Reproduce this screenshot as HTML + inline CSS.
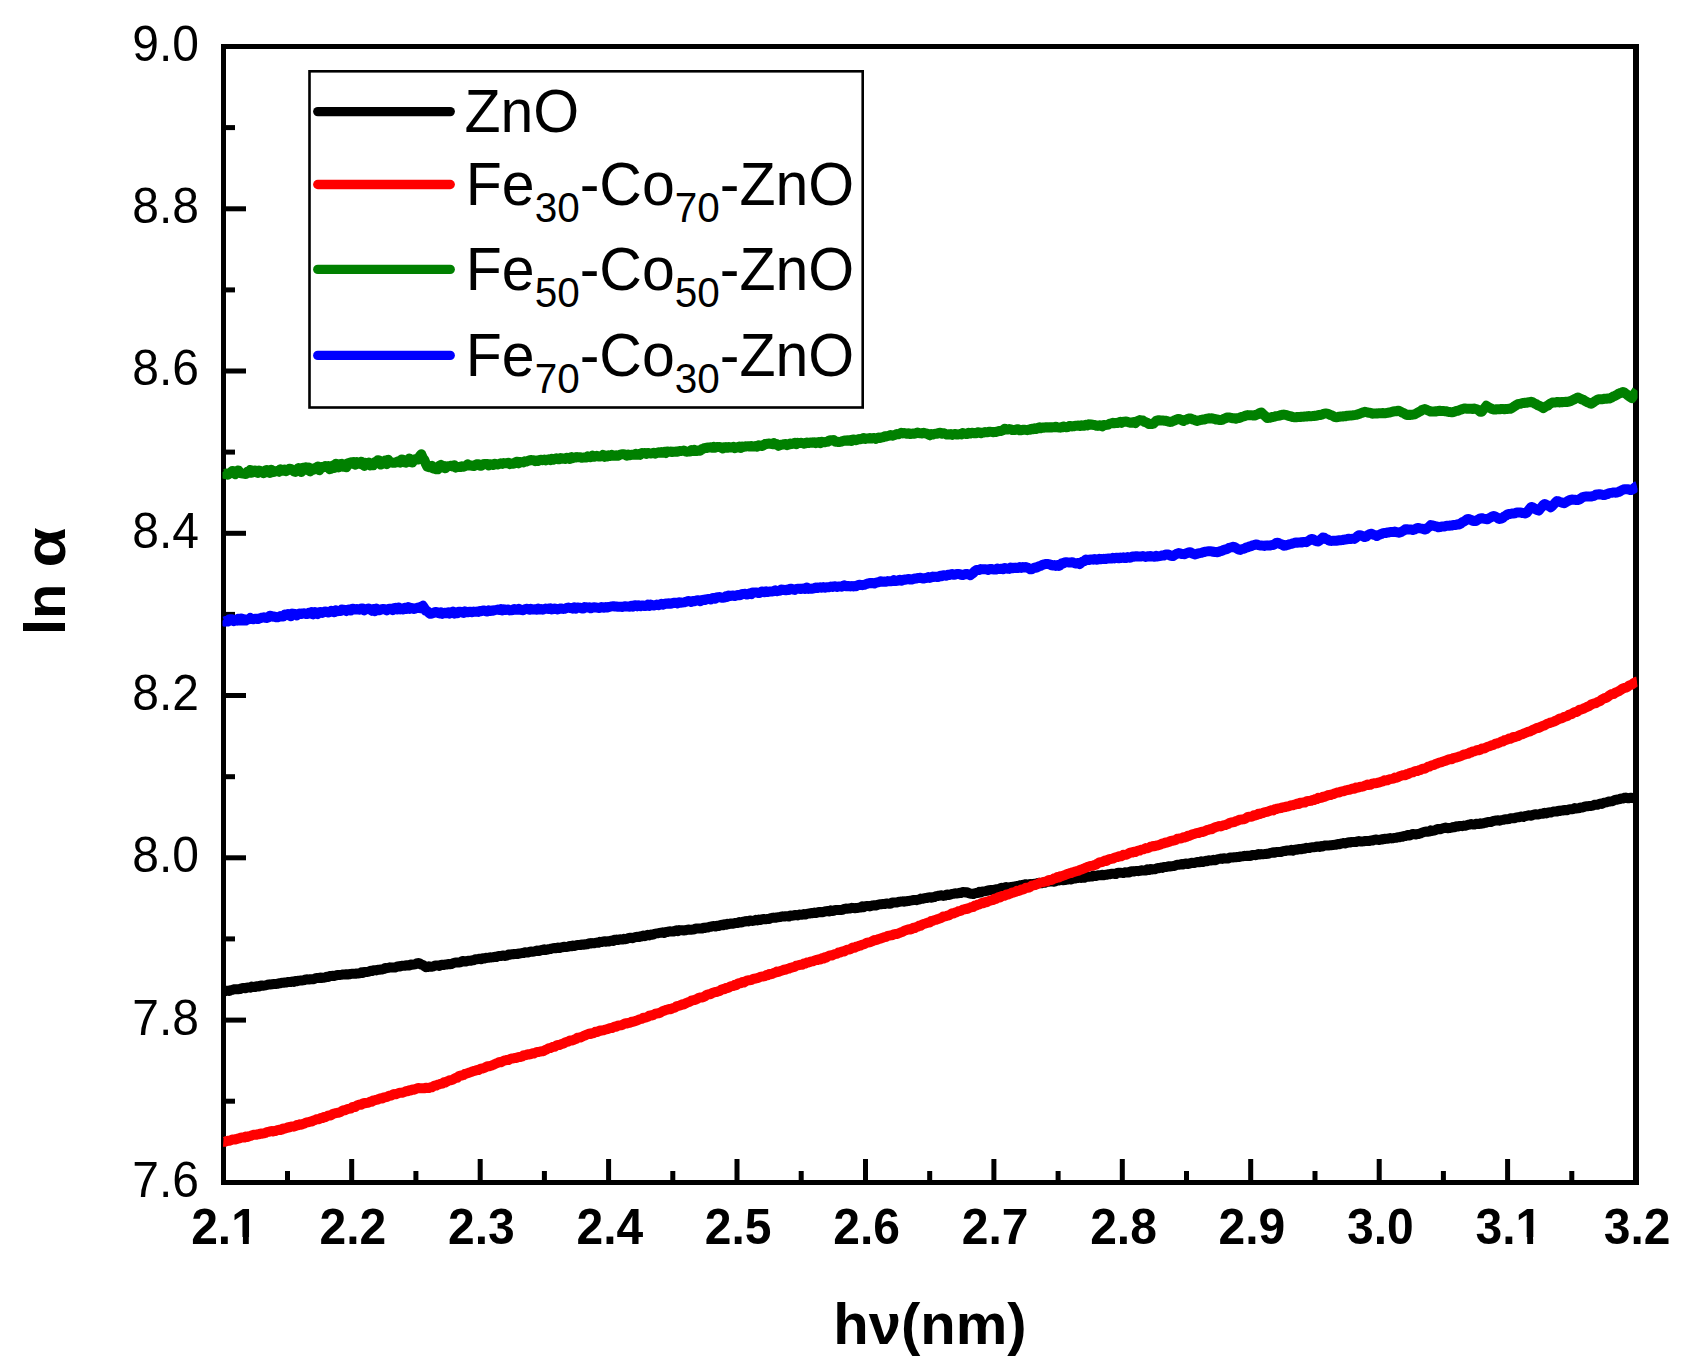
<!DOCTYPE html>
<html lang="en">
<head>
<meta charset="utf-8">
<title>ln α vs hν</title>
<style>
html,body{margin:0;padding:0;background:#fff;}
body{width:1698px;height:1370px;overflow:hidden;}
svg{display:block;}
text{font-family:"Liberation Sans",Arial,Helvetica,sans-serif;fill:#000;}
.yt text{font-size:48px;}
.xt text{font-size:48px;font-weight:bold;}
.lg text{font-size:59px;}
.lg .sub{font-size:40.5px;}
.ax{font-size:58px;font-weight:bold;}
</style>
</head>
<body>
<svg width="1698" height="1370" viewBox="0 0 1698 1370">
<rect x="0" y="0" width="1698" height="1370" fill="#fff"/>
<!-- frame -->
<rect x="223.5" y="46.5" width="1413" height="1136" fill="none" stroke="#000" stroke-width="5"/>
<rect x="1633" y="44" width="6" height="1141" fill="#000"/>
<g fill="#000">
<rect x="224" y="1098.7" width="11" height="5"/>
<rect x="224" y="1017.6" width="22" height="5"/>
<rect x="224" y="936.4" width="11" height="5"/>
<rect x="224" y="855.3" width="22" height="5"/>
<rect x="224" y="774.2" width="11" height="5"/>
<rect x="224" y="693.0" width="22" height="5"/>
<rect x="224" y="611.9" width="11" height="5"/>
<rect x="224" y="530.8" width="22" height="5"/>
<rect x="224" y="449.6" width="11" height="5"/>
<rect x="224" y="368.5" width="22" height="5"/>
<rect x="224" y="287.4" width="11" height="5"/>
<rect x="224" y="206.3" width="22" height="5"/>
<rect x="224" y="125.1" width="11" height="5"/>
<rect x="285.0" y="1171" width="5" height="11"/>
<rect x="349.2" y="1159" width="5" height="23"/>
<rect x="413.4" y="1171" width="5" height="11"/>
<rect x="477.7" y="1159" width="5" height="23"/>
<rect x="541.9" y="1171" width="5" height="11"/>
<rect x="606.1" y="1159" width="5" height="23"/>
<rect x="670.3" y="1171" width="5" height="11"/>
<rect x="734.5" y="1159" width="5" height="23"/>
<rect x="798.7" y="1171" width="5" height="11"/>
<rect x="863.0" y="1159" width="5" height="23"/>
<rect x="927.2" y="1171" width="5" height="11"/>
<rect x="991.4" y="1159" width="5" height="23"/>
<rect x="1055.6" y="1171" width="5" height="11"/>
<rect x="1119.8" y="1159" width="5" height="23"/>
<rect x="1184.0" y="1171" width="5" height="11"/>
<rect x="1248.2" y="1159" width="5" height="23"/>
<rect x="1312.5" y="1171" width="5" height="11"/>
<rect x="1376.7" y="1159" width="5" height="23"/>
<rect x="1440.9" y="1171" width="5" height="11"/>
<rect x="1505.1" y="1159" width="5" height="23"/>
<rect x="1569.3" y="1171" width="5" height="11"/>
</g>
<g class="yt">
<text transform="translate(199,1196.7) scale(1,1.04)" text-anchor="end">7.6</text>
<text transform="translate(199,1034.5) scale(1,1.04)" text-anchor="end">7.8</text>
<text transform="translate(199,872.2) scale(1,1.04)" text-anchor="end">8.0</text>
<text transform="translate(199,709.9) scale(1,1.04)" text-anchor="end">8.2</text>
<text transform="translate(199,547.7) scale(1,1.04)" text-anchor="end">8.4</text>
<text transform="translate(199,385.4) scale(1,1.04)" text-anchor="end">8.6</text>
<text transform="translate(199,223.2) scale(1,1.04)" text-anchor="end">8.8</text>
<text transform="translate(199,60.9) scale(1,1.04)" text-anchor="end">9.0</text>
</g>
<g class="xt">
<text transform="translate(224.5,1243.8) scale(1,1.045)" text-anchor="middle">2.1</text>
<text transform="translate(352.9,1243.8) scale(1,1.045)" text-anchor="middle">2.2</text>
<text transform="translate(481.4,1243.8) scale(1,1.045)" text-anchor="middle">2.3</text>
<text transform="translate(609.8,1243.8) scale(1,1.045)" text-anchor="middle">2.4</text>
<text transform="translate(738.2,1243.8) scale(1,1.045)" text-anchor="middle">2.5</text>
<text transform="translate(866.7,1243.8) scale(1,1.045)" text-anchor="middle">2.6</text>
<text transform="translate(995.1,1243.8) scale(1,1.045)" text-anchor="middle">2.7</text>
<text transform="translate(1123.5,1243.8) scale(1,1.045)" text-anchor="middle">2.8</text>
<text transform="translate(1251.9,1243.8) scale(1,1.045)" text-anchor="middle">2.9</text>
<text transform="translate(1380.4,1243.8) scale(1,1.045)" text-anchor="middle">3.0</text>
<text transform="translate(1508.8,1243.8) scale(1,1.045)" text-anchor="middle">3.1</text>
<text transform="translate(1637.2,1243.8) scale(1,1.045)" text-anchor="middle">3.2</text>
</g>
<g fill="#fff">
<rect x="233.5" y="1237" width="9.4" height="9"/><rect x="248.8" y="1237" width="9.6" height="9"/>
<rect x="1517.8" y="1237" width="9.4" height="9"/><rect x="1533.1" y="1237" width="9.6" height="9"/>
</g>
<!-- legend -->
<rect x="309.5" y="71.3" width="553.2" height="336.2" fill="#fff" stroke="#000" stroke-width="2.6"/>
<g class="lg">
<line x1="317.8" y1="111.6" x2="450.2" y2="111.6" stroke="#000000" stroke-width="9.4" stroke-linecap="round"/>
<text transform="translate(464.5,132.3) scale(1,1.03)">ZnO</text>
<line x1="317.8" y1="184.5" x2="450.2" y2="184.5" stroke="#ff0000" stroke-width="9.4" stroke-linecap="round"/>
<text transform="translate(465.8,205.2) scale(1,1.03)">Fe<tspan class="sub" dy="16">30</tspan><tspan dy="-16">-Co</tspan><tspan class="sub" dy="16">70</tspan><tspan dy="-16">-ZnO</tspan></text>
<line x1="317.8" y1="269.4" x2="450.2" y2="269.4" stroke="#008000" stroke-width="9.4" stroke-linecap="round"/>
<text transform="translate(465.8,290.1) scale(1,1.03)">Fe<tspan class="sub" dy="16">50</tspan><tspan dy="-16">-Co</tspan><tspan class="sub" dy="16">50</tspan><tspan dy="-16">-ZnO</tspan></text>
<line x1="317.8" y1="355.4" x2="450.2" y2="355.4" stroke="#0000ff" stroke-width="9.4" stroke-linecap="round"/>
<text transform="translate(465.8,376.1) scale(1,1.03)">Fe<tspan class="sub" dy="16">70</tspan><tspan dy="-16">-Co</tspan><tspan class="sub" dy="16">30</tspan><tspan dy="-16">-ZnO</tspan></text>
</g>
<!-- curves -->
<clipPath id="cc"><rect x="222.5" y="49" width="1415" height="1131"/></clipPath>
<g clip-path="url(#cc)">
<path d="M223.3,990.9 L224.8,991.4 L226.3,990.8 L227.8,990.8 L229.3,990.9 L230.8,990.2 L232.3,989.9 L233.8,989.3 L235.3,989.2 L236.8,989.2 L238.3,989.2 L239.8,989.1 L241.3,988.4 L242.8,987.9 L244.3,987.9 L245.8,988.3 L247.3,987.4 L248.8,987.4 L250.3,987.7 L251.8,986.6 L253.3,986.9 L254.8,987.1 L256.3,986.2 L257.8,986.3 L259.3,986.4 L260.8,985.5 L262.3,985.6 L263.8,985.7 L265.3,985.4 L266.8,985.0 L268.3,984.5 L269.8,984.6 L271.3,984.3 L272.8,984.2 L274.3,983.9 L275.8,984.1 L277.3,983.9 L278.8,983.2 L280.3,983.3 L281.8,982.8 L283.3,982.8 L284.8,982.5 L286.3,982.6 L287.8,982.1 L289.3,982.0 L290.8,982.1 L292.3,981.6 L293.8,981.9 L295.3,980.9 L296.8,981.3 L298.3,980.8 L299.8,980.6 L301.3,980.6 L302.8,980.3 L304.3,980.0 L305.8,979.4 L307.3,979.3 L308.8,979.6 L310.3,979.2 L311.8,979.2 L313.3,979.2 L314.8,978.7 L316.3,977.9 L317.8,977.9 L319.3,978.0 L320.8,977.4 L322.3,977.9 L323.8,977.7 L325.3,977.3 L326.8,976.7 L328.3,976.9 L329.8,976.0 L331.3,975.9 L332.8,975.8 L334.3,975.9 L335.8,975.5 L337.3,975.0 L338.8,975.0 L340.3,974.9 L341.8,974.7 L343.3,974.4 L344.8,974.5 L346.3,974.3 L347.8,974.5 L349.3,974.3 L350.8,973.9 L352.3,973.7 L353.8,973.8 L355.3,973.8 L356.8,973.4 L358.3,973.4 L359.8,973.3 L361.3,972.3 L362.8,972.9 L364.3,972.0 L365.8,971.9 L367.3,972.0 L368.8,971.6 L370.3,970.8 L371.8,971.1 L373.3,970.2 L374.8,970.2 L376.3,970.4 L377.8,969.8 L379.3,969.7 L380.8,969.5 L382.3,969.4 L383.8,969.0 L385.3,968.0 L386.8,968.2 L388.3,967.9 L389.8,967.3 L391.3,967.6 L392.8,967.4 L394.3,967.5 L395.8,967.4 L397.3,966.4 L398.8,966.3 L400.3,966.5 L401.8,965.8 L403.3,965.7 L404.8,965.8 L406.3,965.2 L407.8,965.6 L409.3,965.5 L410.8,964.5 L412.3,964.7 L413.8,964.6 L415.3,964.4 L416.8,963.4 L418.3,963.0 L419.8,963.5 L421.3,964.6 L422.8,964.9 L424.3,966.2 L425.8,967.2 L427.3,967.1 L428.8,966.3 L430.3,966.7 L431.8,966.7 L433.3,966.3 L434.8,965.7 L436.3,965.4 L437.8,965.5 L439.3,965.9 L440.8,965.0 L442.3,964.8 L443.8,965.0 L445.3,964.6 L446.8,964.5 L448.3,964.0 L449.8,964.2 L451.3,964.0 L452.8,963.4 L454.3,962.7 L455.8,962.6 L457.3,962.5 L458.8,962.5 L460.3,962.3 L461.8,961.3 L463.3,960.9 L464.8,961.5 L466.3,961.4 L467.8,960.7 L469.3,960.8 L470.8,960.7 L472.3,960.2 L473.8,960.3 L475.3,959.2 L476.8,959.2 L478.3,959.0 L479.8,958.7 L481.3,959.3 L482.8,958.2 L484.3,958.6 L485.8,957.8 L487.3,957.9 L488.8,957.7 L490.3,957.3 L491.8,957.4 L493.3,957.2 L494.8,956.8 L496.3,957.0 L497.8,956.2 L499.3,956.0 L500.8,956.0 L502.3,955.8 L503.8,955.4 L505.3,955.9 L506.8,955.6 L508.3,954.6 L509.8,954.7 L511.3,954.3 L512.8,954.3 L514.3,953.9 L515.8,953.9 L517.3,954.1 L518.8,953.4 L520.3,953.4 L521.8,953.1 L523.3,953.1 L524.8,952.2 L526.3,952.6 L527.8,952.6 L529.3,952.0 L530.8,951.5 L532.3,951.7 L533.8,951.5 L535.3,951.2 L536.8,950.5 L538.3,951.1 L539.8,950.8 L541.3,950.1 L542.8,950.0 L544.3,949.2 L545.8,950.0 L547.3,949.6 L548.8,949.2 L550.3,949.1 L551.8,948.4 L553.3,948.3 L554.8,948.0 L556.3,948.2 L557.8,947.5 L559.3,948.1 L560.8,947.4 L562.3,947.2 L563.8,946.7 L565.3,947.1 L566.8,947.0 L568.3,946.6 L569.8,946.0 L571.3,946.3 L572.8,945.5 L574.3,946.0 L575.8,945.5 L577.3,945.0 L578.8,945.1 L580.3,945.0 L581.8,944.4 L583.3,944.8 L584.8,944.2 L586.3,944.4 L587.8,944.2 L589.3,943.2 L590.8,943.6 L592.3,943.1 L593.8,943.3 L595.3,942.9 L596.8,942.6 L598.3,942.8 L599.8,941.8 L601.3,942.1 L602.8,941.7 L604.3,941.2 L605.8,941.7 L607.3,941.3 L608.8,941.4 L610.3,940.9 L611.8,940.5 L613.3,940.9 L614.8,939.8 L616.3,939.6 L617.8,940.1 L619.3,939.5 L620.8,939.3 L622.3,939.6 L623.8,938.8 L625.3,939.2 L626.8,938.8 L628.3,938.2 L629.8,937.8 L631.3,937.7 L632.8,938.2 L634.3,937.4 L635.8,936.9 L637.3,936.8 L638.8,937.1 L640.3,936.2 L641.8,936.5 L643.3,935.6 L644.8,936.2 L646.3,935.5 L647.8,934.8 L649.3,935.4 L650.8,934.6 L652.3,934.7 L653.8,934.3 L655.3,933.6 L656.8,933.4 L658.3,933.2 L659.8,932.9 L661.3,932.6 L662.8,932.3 L664.3,933.0 L665.8,931.9 L667.3,932.0 L668.8,931.4 L670.3,931.3 L671.8,931.6 L673.3,931.6 L674.8,930.9 L676.3,930.3 L677.8,931.2 L679.3,930.1 L680.8,930.3 L682.3,930.3 L683.8,930.5 L685.3,930.3 L686.8,929.9 L688.3,929.5 L689.8,929.8 L691.3,929.7 L692.8,929.6 L694.3,929.3 L695.8,928.5 L697.3,928.6 L698.8,928.6 L700.3,928.5 L701.8,928.6 L703.3,927.7 L704.8,927.9 L706.3,927.4 L707.8,927.6 L709.3,926.8 L710.8,926.8 L712.3,926.2 L713.8,926.1 L715.3,926.6 L716.8,925.7 L718.3,926.1 L719.8,925.4 L721.3,924.7 L722.8,925.3 L724.3,924.3 L725.8,924.8 L727.3,923.8 L728.8,924.2 L730.3,923.5 L731.8,923.4 L733.3,923.8 L734.8,923.1 L736.3,923.0 L737.8,922.9 L739.3,922.0 L740.8,922.5 L742.3,922.3 L743.8,921.4 L745.3,921.6 L746.8,921.1 L748.3,921.4 L749.8,920.5 L751.3,920.8 L752.8,920.9 L754.3,920.6 L755.8,919.8 L757.3,920.4 L758.8,919.6 L760.3,919.9 L761.8,919.4 L763.3,918.9 L764.8,919.3 L766.3,919.2 L767.8,918.9 L769.3,919.0 L770.8,918.1 L772.3,917.8 L773.8,917.6 L775.3,917.8 L776.8,917.4 L778.3,917.2 L779.8,917.1 L781.3,916.7 L782.8,916.3 L784.3,916.6 L785.8,916.2 L787.3,916.2 L788.8,916.5 L790.3,915.5 L791.8,915.8 L793.3,915.6 L794.8,915.1 L796.3,915.1 L797.8,915.4 L799.3,914.6 L800.8,914.7 L802.3,914.7 L803.8,914.0 L805.3,914.5 L806.8,913.9 L808.3,913.6 L809.8,913.6 L811.3,913.1 L812.8,913.2 L814.3,912.6 L815.8,913.1 L817.3,912.5 L818.8,912.0 L820.3,912.0 L821.8,912.3 L823.3,912.0 L824.8,911.5 L826.3,911.2 L827.8,911.0 L829.3,911.4 L830.8,910.4 L832.3,911.0 L833.8,910.8 L835.3,909.9 L836.8,909.9 L838.3,909.9 L839.8,910.0 L841.3,909.9 L842.8,909.8 L844.3,908.9 L845.8,908.6 L847.3,908.7 L848.8,908.6 L850.3,908.5 L851.8,907.8 L853.3,908.1 L854.8,908.2 L856.3,908.0 L857.8,907.9 L859.3,907.6 L860.8,907.5 L862.3,906.4 L863.8,907.1 L865.3,906.2 L866.8,906.1 L868.3,906.1 L869.8,906.4 L871.3,905.8 L872.8,905.4 L874.3,905.2 L875.8,905.5 L877.3,905.2 L878.8,904.4 L880.3,904.3 L881.8,904.2 L883.3,903.9 L884.8,904.0 L886.3,903.5 L887.8,903.6 L889.3,903.8 L890.8,903.5 L892.3,902.5 L893.8,902.5 L895.3,902.5 L896.8,902.5 L898.3,902.0 L899.8,901.7 L901.3,901.6 L902.8,901.3 L904.3,901.7 L905.8,901.4 L907.3,900.9 L908.8,901.0 L910.3,900.6 L911.8,900.4 L913.3,900.0 L914.8,899.9 L916.3,900.2 L917.8,899.7 L919.3,899.6 L920.8,898.6 L922.3,898.8 L923.8,898.4 L925.3,897.9 L926.8,898.0 L928.3,897.4 L929.8,897.3 L931.3,897.7 L932.8,897.3 L934.3,897.1 L935.8,896.2 L937.3,896.1 L938.8,895.7 L940.3,895.5 L941.8,895.3 L943.3,895.9 L944.8,895.6 L946.3,894.7 L947.8,894.5 L949.3,895.0 L950.8,894.3 L952.3,893.9 L953.8,893.7 L955.3,893.3 L956.8,893.4 L958.3,893.3 L959.8,892.8 L961.3,892.9 L962.8,891.9 L964.3,892.2 L965.8,892.5 L967.3,892.2 L968.8,893.1 L970.3,893.8 L971.8,893.7 L973.3,894.1 L974.8,893.3 L976.3,893.0 L977.8,893.1 L979.3,891.9 L980.8,892.5 L982.3,891.4 L983.8,891.4 L985.3,891.2 L986.8,890.9 L988.3,890.2 L989.8,890.2 L991.3,889.9 L992.8,890.2 L994.3,889.9 L995.8,889.2 L997.3,889.3 L998.8,889.0 L1000.3,888.3 L1001.8,887.8 L1003.3,888.1 L1004.8,887.6 L1006.3,887.1 L1007.8,887.8 L1009.3,887.6 L1010.8,886.9 L1012.3,886.8 L1013.8,886.6 L1015.3,886.7 L1016.8,886.0 L1018.3,885.9 L1019.8,885.3 L1021.3,885.1 L1022.8,885.1 L1024.3,884.6 L1025.8,884.2 L1027.3,884.4 L1028.8,884.6 L1030.3,884.0 L1031.8,884.4 L1033.3,884.0 L1034.8,883.8 L1036.3,883.9 L1037.8,882.9 L1039.3,882.8 L1040.8,883.3 L1042.3,883.2 L1043.8,882.2 L1045.3,882.7 L1046.8,881.7 L1048.3,881.7 L1049.8,881.5 L1051.3,881.5 L1052.8,881.4 L1054.3,881.8 L1055.8,881.1 L1057.3,880.6 L1058.8,880.6 L1060.3,880.1 L1061.8,880.0 L1063.3,880.2 L1064.8,880.1 L1066.3,879.7 L1067.8,879.6 L1069.3,879.1 L1070.8,879.5 L1072.3,879.0 L1073.8,878.5 L1075.3,878.6 L1076.8,878.1 L1078.3,878.0 L1079.8,877.6 L1081.3,878.0 L1082.8,877.3 L1084.3,877.8 L1085.8,877.0 L1087.3,876.5 L1088.8,876.8 L1090.3,876.6 L1091.8,876.6 L1093.3,875.6 L1094.8,876.0 L1096.3,875.9 L1097.8,875.2 L1099.3,875.2 L1100.8,875.2 L1102.3,874.7 L1103.8,875.2 L1105.3,874.8 L1106.8,874.8 L1108.3,874.3 L1109.8,874.2 L1111.3,873.7 L1112.8,873.7 L1114.3,873.9 L1115.8,874.0 L1117.3,873.0 L1118.8,872.8 L1120.3,872.7 L1121.8,872.9 L1123.3,873.1 L1124.8,872.3 L1126.3,872.4 L1127.8,872.3 L1129.3,872.4 L1130.8,871.5 L1132.3,871.2 L1133.8,871.5 L1135.3,871.2 L1136.8,870.9 L1138.3,871.2 L1139.8,870.9 L1141.3,870.2 L1142.8,870.4 L1144.3,870.5 L1145.8,870.4 L1147.3,869.3 L1148.8,870.0 L1150.3,869.0 L1151.8,869.5 L1153.3,869.2 L1154.8,869.3 L1156.3,868.7 L1157.8,867.9 L1159.3,868.2 L1160.8,867.6 L1162.3,867.9 L1163.8,866.9 L1165.3,866.9 L1166.8,867.0 L1168.3,866.3 L1169.8,866.5 L1171.3,866.3 L1172.8,866.1 L1174.3,866.0 L1175.8,865.3 L1177.3,864.8 L1178.8,864.7 L1180.3,864.5 L1181.8,864.0 L1183.3,864.5 L1184.8,863.6 L1186.3,863.4 L1187.8,864.0 L1189.3,863.7 L1190.8,863.0 L1192.3,862.8 L1193.8,863.1 L1195.3,862.7 L1196.8,862.1 L1198.3,862.1 L1199.8,862.3 L1201.3,861.2 L1202.8,862.0 L1204.3,861.4 L1205.8,860.8 L1207.3,861.2 L1208.8,860.3 L1210.3,860.4 L1211.8,860.4 L1213.3,859.8 L1214.8,860.3 L1216.3,859.9 L1217.8,859.1 L1219.3,858.9 L1220.8,858.6 L1222.3,858.9 L1223.8,858.3 L1225.3,858.5 L1226.8,858.6 L1228.3,858.5 L1229.8,857.6 L1231.3,857.6 L1232.8,857.5 L1234.3,857.3 L1235.8,857.2 L1237.3,857.0 L1238.8,857.1 L1240.3,856.5 L1241.8,856.4 L1243.3,856.2 L1244.8,855.8 L1246.3,856.1 L1247.8,855.7 L1249.3,856.1 L1250.8,855.8 L1252.3,855.0 L1253.8,854.9 L1255.3,855.2 L1256.8,854.8 L1258.3,854.1 L1259.8,854.5 L1261.3,854.1 L1262.8,854.3 L1264.3,854.1 L1265.8,854.1 L1267.3,853.7 L1268.8,853.7 L1270.3,852.9 L1271.8,852.7 L1273.3,852.2 L1274.8,852.8 L1276.3,851.9 L1277.8,852.1 L1279.3,851.9 L1280.8,852.0 L1282.3,851.4 L1283.8,850.9 L1285.3,851.0 L1286.8,850.4 L1288.3,850.5 L1289.8,850.6 L1291.3,849.8 L1292.8,850.6 L1294.3,849.9 L1295.8,849.5 L1297.3,849.8 L1298.8,848.9 L1300.3,848.9 L1301.8,849.3 L1303.3,848.4 L1304.8,848.7 L1306.3,847.8 L1307.8,848.1 L1309.3,848.0 L1310.8,847.4 L1312.3,847.3 L1313.8,847.3 L1315.3,847.1 L1316.8,846.5 L1318.3,846.6 L1319.8,847.0 L1321.3,846.1 L1322.8,846.4 L1324.3,845.6 L1325.8,845.6 L1327.3,845.5 L1328.8,845.4 L1330.3,845.3 L1331.8,845.2 L1333.3,844.9 L1334.8,844.8 L1336.3,844.7 L1337.8,843.9 L1339.3,844.2 L1340.8,843.7 L1342.3,843.3 L1343.8,843.0 L1345.3,843.4 L1346.8,843.0 L1348.3,842.3 L1349.8,842.6 L1351.3,841.9 L1352.8,842.1 L1354.3,842.1 L1355.8,842.1 L1357.3,841.4 L1358.8,841.1 L1360.3,841.5 L1361.8,841.6 L1363.3,841.4 L1364.8,840.9 L1366.3,840.9 L1367.8,840.9 L1369.3,840.9 L1370.8,840.4 L1372.3,840.6 L1373.8,839.9 L1375.3,839.6 L1376.8,839.6 L1378.3,839.9 L1379.8,839.9 L1381.3,839.3 L1382.8,839.4 L1384.3,838.7 L1385.8,838.9 L1387.3,838.7 L1388.8,838.5 L1390.3,838.1 L1391.8,838.4 L1393.3,838.2 L1394.8,837.9 L1396.3,837.7 L1397.8,837.2 L1399.3,837.3 L1400.8,836.7 L1402.3,836.8 L1403.8,836.0 L1405.3,836.1 L1406.8,835.3 L1408.3,834.9 L1409.8,835.5 L1411.3,834.6 L1412.8,834.0 L1414.3,834.3 L1415.8,834.4 L1417.3,833.9 L1418.8,833.9 L1420.3,833.5 L1421.8,832.7 L1423.3,832.2 L1424.8,831.7 L1426.3,831.6 L1427.8,831.7 L1429.3,831.6 L1430.8,830.4 L1432.3,830.9 L1433.8,830.6 L1435.3,830.2 L1436.8,829.3 L1438.3,828.9 L1439.8,829.3 L1441.3,828.9 L1442.8,828.3 L1444.3,828.1 L1445.8,827.6 L1447.3,828.3 L1448.8,828.0 L1450.3,827.9 L1451.8,827.6 L1453.3,827.0 L1454.8,827.2 L1456.3,826.3 L1457.8,826.6 L1459.3,826.0 L1460.8,825.9 L1462.3,826.2 L1463.8,825.6 L1465.3,825.8 L1466.8,825.3 L1468.3,824.8 L1469.8,824.6 L1471.3,824.1 L1472.8,824.5 L1474.3,824.6 L1475.8,823.8 L1477.3,823.8 L1478.8,824.1 L1480.3,823.3 L1481.8,823.7 L1483.3,823.4 L1484.8,822.8 L1486.3,822.7 L1487.8,821.9 L1489.3,822.1 L1490.8,822.1 L1492.3,821.3 L1493.8,820.9 L1495.3,820.6 L1496.8,820.5 L1498.3,820.3 L1499.8,820.7 L1501.3,820.1 L1502.8,819.9 L1504.3,819.4 L1505.8,819.2 L1507.3,819.2 L1508.8,819.1 L1510.3,818.3 L1511.8,818.3 L1513.3,818.3 L1514.8,818.3 L1516.3,817.4 L1517.8,817.3 L1519.3,817.2 L1520.8,816.5 L1522.3,816.8 L1523.8,816.9 L1525.3,815.9 L1526.8,815.9 L1528.3,815.3 L1529.8,815.5 L1531.3,815.7 L1532.8,815.0 L1534.3,814.5 L1535.8,814.3 L1537.3,814.4 L1538.8,814.4 L1540.3,813.8 L1541.8,813.6 L1543.3,813.7 L1544.8,812.8 L1546.3,813.4 L1547.8,812.7 L1549.3,812.3 L1550.8,812.6 L1552.3,811.8 L1553.8,811.5 L1555.3,811.4 L1556.8,811.5 L1558.3,810.7 L1559.8,810.9 L1561.3,810.4 L1562.8,810.5 L1564.3,809.9 L1565.8,810.3 L1567.3,810.2 L1568.8,809.4 L1570.3,809.2 L1571.8,809.2 L1573.3,809.0 L1574.8,808.1 L1576.3,808.4 L1577.8,808.3 L1579.3,808.0 L1580.8,807.4 L1582.3,807.5 L1583.8,807.0 L1585.3,806.4 L1586.8,806.2 L1588.3,806.2 L1589.8,805.9 L1591.3,805.9 L1592.8,805.6 L1594.3,804.8 L1595.8,804.7 L1597.3,804.8 L1598.8,804.2 L1600.3,803.6 L1601.8,803.9 L1603.3,803.1 L1604.8,802.6 L1606.3,802.4 L1607.8,801.8 L1609.3,801.4 L1610.8,801.4 L1612.3,801.2 L1613.8,800.5 L1615.3,799.8 L1616.8,799.8 L1618.3,799.3 L1619.8,799.0 L1621.3,798.4 L1622.8,798.6 L1624.3,797.8 L1625.8,797.6 L1627.3,798.3 L1628.8,798.3 L1630.3,797.8 L1631.8,797.8 L1633.3,798.2 L1634.8,798.5 L1636.3,797.9 L1637.0,798.1" fill="none" stroke="#000000" stroke-width="10" stroke-linejoin="round" stroke-linecap="butt"/>
<path d="M223.3,1141.7 L224.8,1141.8 L226.3,1141.2 L227.8,1140.8 L229.3,1140.7 L230.8,1140.2 L232.3,1139.5 L233.8,1139.4 L235.3,1139.6 L236.8,1139.1 L238.3,1138.5 L239.8,1138.3 L241.3,1137.4 L242.8,1137.4 L244.3,1137.5 L245.8,1136.5 L247.3,1136.9 L248.8,1136.4 L250.3,1136.0 L251.8,1135.4 L253.3,1134.8 L254.8,1134.7 L256.3,1134.8 L257.8,1134.2 L259.3,1134.3 L260.8,1133.4 L262.3,1133.7 L263.8,1133.4 L265.3,1133.0 L266.8,1132.2 L268.3,1131.9 L269.8,1131.4 L271.3,1131.1 L272.8,1131.5 L274.3,1131.0 L275.8,1130.9 L277.3,1130.1 L278.8,1129.8 L280.3,1130.0 L281.8,1129.7 L283.3,1128.4 L284.8,1128.7 L286.3,1128.1 L287.8,1127.2 L289.3,1127.4 L290.8,1126.7 L292.3,1126.4 L293.8,1126.7 L295.3,1126.1 L296.8,1125.0 L298.3,1125.3 L299.8,1124.2 L301.3,1124.7 L302.8,1124.0 L304.3,1123.7 L305.8,1122.7 L307.3,1122.2 L308.8,1122.2 L310.3,1121.6 L311.8,1121.5 L313.3,1120.5 L314.8,1120.1 L316.3,1119.3 L317.8,1119.2 L319.3,1119.2 L320.8,1118.0 L322.3,1118.1 L323.8,1117.0 L325.3,1117.2 L326.8,1116.3 L328.3,1115.5 L329.8,1115.6 L331.3,1115.2 L332.8,1114.0 L334.3,1113.5 L335.8,1113.1 L337.3,1112.8 L338.8,1112.7 L340.3,1112.1 L341.8,1111.1 L343.3,1110.2 L344.8,1110.3 L346.3,1109.7 L347.8,1108.9 L349.3,1108.7 L350.8,1108.6 L352.3,1107.2 L353.8,1106.8 L355.3,1106.9 L356.8,1105.6 L358.3,1105.1 L359.8,1104.6 L361.3,1104.7 L362.8,1103.6 L364.3,1103.1 L365.8,1103.2 L367.3,1102.9 L368.8,1102.4 L370.3,1101.6 L371.8,1101.7 L373.3,1100.4 L374.8,1100.3 L376.3,1099.8 L377.8,1099.5 L379.3,1098.7 L380.8,1098.2 L382.3,1098.6 L383.8,1097.4 L385.3,1097.2 L386.8,1097.1 L388.3,1096.1 L389.8,1095.7 L391.3,1095.5 L392.8,1094.6 L394.3,1094.1 L395.8,1094.3 L397.3,1093.7 L398.8,1093.0 L400.3,1092.8 L401.8,1092.8 L403.3,1092.4 L404.8,1091.8 L406.3,1091.1 L407.8,1091.3 L409.3,1090.2 L410.8,1090.4 L412.3,1089.4 L413.8,1089.7 L415.3,1089.2 L416.8,1088.5 L418.3,1088.0 L419.8,1088.2 L421.3,1088.3 L422.8,1088.2 L424.3,1088.3 L425.8,1087.7 L427.3,1088.0 L428.8,1088.1 L430.3,1087.3 L431.8,1087.3 L433.3,1086.3 L434.8,1085.6 L436.3,1085.6 L437.8,1084.6 L439.3,1084.3 L440.8,1083.8 L442.3,1083.5 L443.8,1082.3 L445.3,1082.5 L446.8,1081.7 L448.3,1080.8 L449.8,1080.2 L451.3,1080.2 L452.8,1079.6 L454.3,1078.6 L455.8,1077.8 L457.3,1077.8 L458.8,1076.2 L460.3,1075.6 L461.8,1075.6 L463.3,1075.1 L464.8,1074.0 L466.3,1073.7 L467.8,1073.1 L469.3,1072.7 L470.8,1072.1 L472.3,1071.5 L473.8,1071.0 L475.3,1070.7 L476.8,1070.0 L478.3,1070.1 L479.8,1069.2 L481.3,1068.4 L482.8,1068.4 L484.3,1068.0 L485.8,1067.1 L487.3,1066.2 L488.8,1066.3 L490.3,1065.9 L491.8,1065.5 L493.3,1064.8 L494.8,1064.2 L496.3,1063.4 L497.8,1062.8 L499.3,1062.1 L500.8,1062.3 L502.3,1061.5 L503.8,1060.8 L505.3,1060.3 L506.8,1060.0 L508.3,1060.1 L509.8,1059.2 L511.3,1058.6 L512.8,1058.5 L514.3,1058.1 L515.8,1058.1 L517.3,1057.5 L518.8,1057.0 L520.3,1057.1 L521.8,1056.6 L523.3,1055.5 L524.8,1055.2 L526.3,1055.0 L527.8,1054.2 L529.3,1054.5 L530.8,1054.1 L532.3,1053.3 L533.8,1053.5 L535.3,1052.7 L536.8,1052.0 L538.3,1052.0 L539.8,1051.7 L541.3,1051.3 L542.8,1051.2 L544.3,1050.7 L545.8,1049.7 L547.3,1049.2 L548.8,1048.2 L550.3,1048.1 L551.8,1047.3 L553.3,1046.7 L554.8,1046.8 L556.3,1045.5 L557.8,1045.0 L559.3,1045.0 L560.8,1044.4 L562.3,1043.7 L563.8,1043.5 L565.3,1042.4 L566.8,1041.8 L568.3,1041.5 L569.8,1040.6 L571.3,1040.6 L572.8,1040.3 L574.3,1039.6 L575.8,1039.1 L577.3,1037.8 L578.8,1037.6 L580.3,1037.5 L581.8,1036.9 L583.3,1036.1 L584.8,1035.6 L586.3,1034.7 L587.8,1034.2 L589.3,1033.5 L590.8,1033.9 L592.3,1032.9 L593.8,1033.2 L595.3,1031.8 L596.8,1032.1 L598.3,1031.4 L599.8,1030.5 L601.3,1030.7 L602.8,1030.4 L604.3,1029.9 L605.8,1029.5 L607.3,1029.1 L608.8,1028.7 L610.3,1027.9 L611.8,1028.1 L613.3,1027.2 L614.8,1026.5 L616.3,1026.8 L617.8,1025.7 L619.3,1025.4 L620.8,1025.3 L622.3,1024.9 L623.8,1024.0 L625.3,1023.3 L626.8,1023.5 L628.3,1023.0 L629.8,1022.8 L631.3,1021.8 L632.8,1021.9 L634.3,1021.3 L635.8,1020.9 L637.3,1020.3 L638.8,1019.7 L640.3,1019.1 L641.8,1018.9 L643.3,1017.7 L644.8,1017.7 L646.3,1017.3 L647.8,1016.8 L649.3,1015.6 L650.8,1015.3 L652.3,1015.4 L653.8,1014.8 L655.3,1013.7 L656.8,1013.5 L658.3,1013.3 L659.8,1012.9 L661.3,1012.0 L662.8,1011.1 L664.3,1010.7 L665.8,1010.0 L667.3,1009.7 L668.8,1009.1 L670.3,1009.2 L671.8,1008.7 L673.3,1007.9 L674.8,1007.8 L676.3,1006.5 L677.8,1005.9 L679.3,1005.8 L680.8,1005.1 L682.3,1004.2 L683.8,1004.4 L685.3,1003.5 L686.8,1002.9 L688.3,1002.1 L689.8,1001.8 L691.3,1000.7 L692.8,1000.3 L694.3,1000.1 L695.8,999.5 L697.3,998.9 L698.8,997.8 L700.3,997.5 L701.8,997.6 L703.3,997.0 L704.8,996.4 L706.3,995.1 L707.8,994.5 L709.3,994.1 L710.8,994.2 L712.3,993.0 L713.8,992.5 L715.3,992.0 L716.8,991.9 L718.3,991.2 L719.8,991.0 L721.3,989.7 L722.8,989.1 L724.3,989.3 L725.8,988.1 L727.3,988.1 L728.8,987.5 L730.3,986.5 L731.8,986.0 L733.3,986.0 L734.8,984.7 L736.3,985.1 L737.8,983.6 L739.3,983.2 L740.8,983.2 L742.3,982.1 L743.8,982.5 L745.3,981.5 L746.8,980.7 L748.3,980.3 L749.8,980.2 L751.3,980.1 L752.8,979.1 L754.3,978.7 L755.8,978.5 L757.3,978.1 L758.8,977.7 L760.3,976.9 L761.8,976.5 L763.3,976.5 L764.8,976.1 L766.3,975.1 L767.8,975.3 L769.3,974.0 L770.8,974.2 L772.3,973.8 L773.8,973.0 L775.3,972.7 L776.8,971.6 L778.3,972.0 L779.8,971.3 L781.3,970.8 L782.8,970.3 L784.3,969.5 L785.8,969.7 L787.3,968.9 L788.8,968.6 L790.3,967.7 L791.8,967.7 L793.3,966.9 L794.8,966.9 L796.3,965.7 L797.8,965.4 L799.3,965.0 L800.8,964.8 L802.3,964.8 L803.8,963.5 L805.3,963.6 L806.8,962.6 L808.3,962.5 L809.8,962.0 L811.3,961.4 L812.8,961.3 L814.3,960.7 L815.8,960.1 L817.3,960.0 L818.8,959.2 L820.3,959.5 L821.8,958.3 L823.3,958.6 L824.8,957.3 L826.3,957.7 L827.8,956.3 L829.3,955.7 L830.8,955.3 L832.3,955.4 L833.8,954.4 L835.3,953.9 L836.8,953.8 L838.3,952.6 L839.8,952.6 L841.3,951.9 L842.8,951.2 L844.3,951.4 L845.8,950.3 L847.3,949.7 L848.8,949.6 L850.3,949.2 L851.8,948.1 L853.3,947.4 L854.8,947.8 L856.3,946.7 L857.8,946.3 L859.3,945.7 L860.8,945.5 L862.3,944.6 L863.8,944.4 L865.3,943.6 L866.8,942.7 L868.3,942.6 L869.8,942.4 L871.3,941.6 L872.8,941.0 L874.3,940.1 L875.8,940.3 L877.3,939.6 L878.8,939.0 L880.3,938.6 L881.8,938.2 L883.3,937.6 L884.8,937.1 L886.3,936.8 L887.8,935.9 L889.3,935.6 L890.8,935.3 L892.3,935.3 L893.8,934.4 L895.3,934.0 L896.8,933.9 L898.3,933.4 L899.8,932.8 L901.3,932.2 L902.8,931.7 L904.3,930.8 L905.8,930.3 L907.3,929.8 L908.8,929.3 L910.3,929.4 L911.8,928.9 L913.3,927.8 L914.8,928.0 L916.3,927.0 L917.8,926.6 L919.3,925.5 L920.8,925.7 L922.3,924.4 L923.8,923.9 L925.3,923.6 L926.8,923.1 L928.3,922.5 L929.8,922.4 L931.3,920.9 L932.8,920.9 L934.3,920.1 L935.8,919.9 L937.3,919.2 L938.8,918.8 L940.3,918.3 L941.8,917.7 L943.3,916.5 L944.8,916.4 L946.3,916.1 L947.8,915.6 L949.3,915.2 L950.8,914.2 L952.3,913.2 L953.8,913.4 L955.3,912.5 L956.8,912.3 L958.3,911.2 L959.8,911.0 L961.3,910.7 L962.8,909.7 L964.3,909.4 L965.8,908.7 L967.3,908.9 L968.8,908.2 L970.3,907.6 L971.8,906.9 L973.3,906.9 L974.8,905.6 L976.3,905.6 L977.8,904.4 L979.3,904.4 L980.8,903.5 L982.3,902.8 L983.8,903.2 L985.3,902.0 L986.8,902.2 L988.3,901.3 L989.8,900.8 L991.3,900.3 L992.8,900.1 L994.3,898.8 L995.8,899.0 L997.3,897.8 L998.8,897.1 L1000.3,897.4 L1001.8,896.0 L1003.3,895.9 L1004.8,895.7 L1006.3,894.6 L1007.8,894.6 L1009.3,893.9 L1010.8,893.5 L1012.3,892.4 L1013.8,892.4 L1015.3,892.0 L1016.8,890.8 L1018.3,891.1 L1019.8,890.6 L1021.3,889.4 L1022.8,889.5 L1024.3,889.0 L1025.8,887.7 L1027.3,887.8 L1028.8,887.5 L1030.3,886.9 L1031.8,885.7 L1033.3,885.4 L1034.8,885.1 L1036.3,884.4 L1037.8,883.9 L1039.3,883.1 L1040.8,882.6 L1042.3,882.4 L1043.8,882.0 L1045.3,881.6 L1046.8,881.5 L1048.3,880.1 L1049.8,879.9 L1051.3,879.9 L1052.8,879.4 L1054.3,878.2 L1055.8,878.2 L1057.3,877.1 L1058.8,877.5 L1060.3,876.3 L1061.8,876.2 L1063.3,875.5 L1064.8,875.1 L1066.3,874.3 L1067.8,873.9 L1069.3,873.3 L1070.8,873.1 L1072.3,872.4 L1073.8,872.0 L1075.3,871.5 L1076.8,871.1 L1078.3,870.9 L1079.8,869.9 L1081.3,869.4 L1082.8,868.9 L1084.3,868.3 L1085.8,867.7 L1087.3,867.0 L1088.8,866.7 L1090.3,865.9 L1091.8,865.8 L1093.3,865.5 L1094.8,864.9 L1096.3,864.4 L1097.8,863.3 L1099.3,862.5 L1100.8,862.2 L1102.3,862.0 L1103.8,861.1 L1105.3,860.5 L1106.8,860.9 L1108.3,859.7 L1109.8,858.9 L1111.3,858.9 L1112.8,858.6 L1114.3,857.9 L1115.8,857.2 L1117.3,857.1 L1118.8,856.2 L1120.3,856.4 L1121.8,856.2 L1123.3,854.8 L1124.8,854.9 L1126.3,854.7 L1127.8,854.0 L1129.3,853.1 L1130.8,852.6 L1132.3,852.5 L1133.8,851.7 L1135.3,852.0 L1136.8,851.2 L1138.3,850.6 L1139.8,850.6 L1141.3,849.6 L1142.8,849.4 L1144.3,848.9 L1145.8,848.1 L1147.3,848.3 L1148.8,847.8 L1150.3,846.8 L1151.8,846.6 L1153.3,846.0 L1154.8,846.2 L1156.3,845.5 L1157.8,845.4 L1159.3,844.8 L1160.8,844.4 L1162.3,843.4 L1163.8,843.5 L1165.3,842.6 L1166.8,842.7 L1168.3,842.1 L1169.8,841.5 L1171.3,840.7 L1172.8,840.7 L1174.3,840.3 L1175.8,839.9 L1177.3,838.8 L1178.8,838.6 L1180.3,838.5 L1181.8,838.3 L1183.3,837.2 L1184.8,837.4 L1186.3,837.0 L1187.8,835.7 L1189.3,835.9 L1190.8,835.1 L1192.3,834.4 L1193.8,834.0 L1195.3,833.7 L1196.8,832.9 L1198.3,833.1 L1199.8,832.4 L1201.3,831.8 L1202.8,831.9 L1204.3,831.5 L1205.8,830.6 L1207.3,830.0 L1208.8,829.8 L1210.3,829.1 L1211.8,829.2 L1213.3,828.1 L1214.8,827.5 L1216.3,826.9 L1217.8,826.6 L1219.3,826.1 L1220.8,826.4 L1222.3,825.7 L1223.8,825.2 L1225.3,825.1 L1226.8,824.3 L1228.3,823.9 L1229.8,822.8 L1231.3,822.5 L1232.8,822.3 L1234.3,822.1 L1235.8,821.1 L1237.3,820.8 L1238.8,820.1 L1240.3,819.6 L1241.8,819.4 L1243.3,819.3 L1244.8,818.9 L1246.3,818.0 L1247.8,817.0 L1249.3,816.8 L1250.8,816.7 L1252.3,816.5 L1253.8,815.2 L1255.3,815.4 L1256.8,815.0 L1258.3,813.7 L1259.8,814.1 L1261.3,813.3 L1262.8,813.0 L1264.3,812.4 L1265.8,812.0 L1267.3,811.8 L1268.8,811.3 L1270.3,810.6 L1271.8,810.2 L1273.3,810.4 L1274.8,809.3 L1276.3,809.1 L1277.8,808.4 L1279.3,808.3 L1280.8,808.1 L1282.3,807.4 L1283.8,807.2 L1285.3,807.0 L1286.8,806.4 L1288.3,806.4 L1289.8,805.8 L1291.3,805.3 L1292.8,805.3 L1294.3,804.7 L1295.8,804.3 L1297.3,803.6 L1298.8,804.0 L1300.3,802.8 L1301.8,802.7 L1303.3,802.5 L1304.8,802.5 L1306.3,801.5 L1307.8,800.9 L1309.3,801.1 L1310.8,800.9 L1312.3,800.0 L1313.8,800.1 L1315.3,799.0 L1316.8,799.1 L1318.3,797.8 L1319.8,798.1 L1321.3,797.9 L1322.8,796.8 L1324.3,797.0 L1325.8,796.3 L1327.3,795.6 L1328.8,794.9 L1330.3,795.1 L1331.8,794.4 L1333.3,794.1 L1334.8,793.4 L1336.3,792.8 L1337.8,792.4 L1339.3,792.5 L1340.8,791.6 L1342.3,791.3 L1343.8,791.2 L1345.3,790.5 L1346.8,790.2 L1348.3,789.8 L1349.8,789.7 L1351.3,789.0 L1352.8,788.5 L1354.3,788.8 L1355.8,787.6 L1357.3,787.7 L1358.8,787.3 L1360.3,786.7 L1361.8,786.7 L1363.3,786.3 L1364.8,785.7 L1366.3,785.1 L1367.8,784.5 L1369.3,784.9 L1370.8,784.7 L1372.3,783.6 L1373.8,783.3 L1375.3,783.2 L1376.8,783.0 L1378.3,782.7 L1379.8,782.2 L1381.3,781.7 L1382.8,781.3 L1384.3,780.3 L1385.8,780.4 L1387.3,780.3 L1388.8,779.5 L1390.3,779.1 L1391.8,778.9 L1393.3,778.6 L1394.8,777.6 L1396.3,777.8 L1397.8,777.3 L1399.3,776.3 L1400.8,775.9 L1402.3,775.3 L1403.8,775.1 L1405.3,775.2 L1406.8,774.1 L1408.3,774.2 L1409.8,773.0 L1411.3,772.6 L1412.8,772.4 L1414.3,771.5 L1415.8,771.0 L1417.3,771.1 L1418.8,770.3 L1420.3,770.1 L1421.8,769.1 L1423.3,768.7 L1424.8,768.7 L1426.3,767.8 L1427.8,766.8 L1429.3,766.6 L1430.8,765.7 L1432.3,765.2 L1433.8,765.1 L1435.3,764.1 L1436.8,763.7 L1438.3,763.0 L1439.8,762.5 L1441.3,762.3 L1442.8,761.5 L1444.3,761.1 L1445.8,760.7 L1447.3,760.0 L1448.8,759.4 L1450.3,759.0 L1451.8,759.3 L1453.3,758.2 L1454.8,757.8 L1456.3,757.6 L1457.8,757.1 L1459.3,756.5 L1460.8,756.2 L1462.3,755.4 L1463.8,754.5 L1465.3,754.4 L1466.8,753.8 L1468.3,753.7 L1469.8,752.6 L1471.3,752.5 L1472.8,751.4 L1474.3,751.2 L1475.8,750.7 L1477.3,749.9 L1478.8,750.2 L1480.3,749.7 L1481.8,748.6 L1483.3,748.6 L1484.8,748.3 L1486.3,747.4 L1487.8,746.6 L1489.3,746.4 L1490.8,745.6 L1492.3,745.2 L1493.8,744.7 L1495.3,743.8 L1496.8,743.6 L1498.3,742.9 L1499.8,742.4 L1501.3,741.6 L1502.8,741.5 L1504.3,740.3 L1505.8,740.1 L1507.3,739.6 L1508.8,738.6 L1510.3,738.8 L1511.8,738.0 L1513.3,737.0 L1514.8,737.2 L1516.3,736.5 L1517.8,736.1 L1519.3,735.4 L1520.8,734.6 L1522.3,734.4 L1523.8,733.4 L1525.3,732.9 L1526.8,732.3 L1528.3,731.7 L1529.8,731.6 L1531.3,730.6 L1532.8,730.0 L1534.3,729.2 L1535.8,728.5 L1537.3,727.8 L1538.8,727.9 L1540.3,727.1 L1541.8,726.2 L1543.3,725.7 L1544.8,725.3 L1546.3,724.2 L1547.8,723.5 L1549.3,723.1 L1550.8,722.4 L1552.3,722.2 L1553.8,721.6 L1555.3,720.9 L1556.8,720.2 L1558.3,719.4 L1559.8,718.4 L1561.3,718.5 L1562.8,717.8 L1564.3,716.9 L1565.8,716.5 L1567.3,716.0 L1568.8,714.8 L1570.3,714.4 L1571.8,714.1 L1573.3,712.7 L1574.8,712.0 L1576.3,712.1 L1577.8,711.3 L1579.3,709.8 L1580.8,709.7 L1582.3,709.1 L1583.8,708.5 L1585.3,707.7 L1586.8,707.0 L1588.3,706.4 L1589.8,705.7 L1591.3,704.5 L1592.8,703.9 L1594.3,703.3 L1595.8,703.3 L1597.3,702.2 L1598.8,701.6 L1600.3,701.1 L1601.8,699.5 L1603.3,698.8 L1604.8,698.0 L1606.3,697.9 L1607.8,696.9 L1609.3,695.5 L1610.8,694.6 L1612.3,693.9 L1613.8,693.9 L1615.3,692.6 L1616.8,692.2 L1618.3,691.4 L1619.8,690.7 L1621.3,689.5 L1622.8,688.5 L1624.3,688.0 L1625.8,687.7 L1627.3,687.0 L1628.8,685.7 L1630.3,685.0 L1631.8,684.6 L1633.3,683.4 L1634.8,682.5 L1636.3,681.8 L1637.0,681.7" fill="none" stroke="#ff0000" stroke-width="10" stroke-linejoin="round" stroke-linecap="butt"/>
<path d="M223.3,471.5 L224.8,474.0 L226.3,473.5 L227.8,474.7 L229.3,473.8 L230.8,472.3 L232.3,471.0 L233.8,471.2 L235.3,474.2 L236.8,473.0 L238.3,470.4 L239.8,472.2 L241.3,473.4 L242.8,473.6 L244.3,473.7 L245.8,474.0 L247.3,471.9 L248.8,472.7 L250.3,469.9 L251.8,472.7 L253.3,472.0 L254.8,470.6 L256.3,470.7 L257.8,472.9 L259.3,470.6 L260.8,471.2 L262.3,471.4 L263.8,473.2 L265.3,470.5 L266.8,470.0 L268.3,470.5 L269.8,473.0 L271.3,469.8 L272.8,472.1 L274.3,471.8 L275.8,471.1 L277.3,470.9 L278.8,471.7 L280.3,469.3 L281.8,470.5 L283.3,470.8 L284.8,469.4 L286.3,471.2 L287.8,470.0 L289.3,468.8 L290.8,469.0 L292.3,469.8 L293.8,471.3 L295.3,471.9 L296.8,470.3 L298.3,468.1 L299.8,470.7 L301.3,472.0 L302.8,467.7 L304.3,469.0 L305.8,467.3 L307.3,469.9 L308.8,467.5 L310.3,471.4 L311.8,468.7 L313.3,469.6 L314.8,468.1 L316.3,468.0 L317.8,466.4 L319.3,470.3 L320.8,467.2 L322.3,466.9 L323.8,467.2 L325.3,466.1 L326.8,466.5 L328.3,466.1 L329.8,469.3 L331.3,468.5 L332.8,465.5 L334.3,467.9 L335.8,463.8 L337.3,466.2 L338.8,467.4 L340.3,464.2 L341.8,463.8 L343.3,466.7 L344.8,465.9 L346.3,467.3 L347.8,463.2 L349.3,463.0 L350.8,462.4 L352.3,463.6 L353.8,462.1 L355.3,464.7 L356.8,462.0 L358.3,463.7 L359.8,463.9 L361.3,461.7 L362.8,464.5 L364.3,465.9 L365.8,462.9 L367.3,463.4 L368.8,462.6 L370.3,465.4 L371.8,464.7 L373.3,465.1 L374.8,462.2 L376.3,461.8 L377.8,460.3 L379.3,460.5 L380.8,464.6 L382.3,462.7 L383.8,462.0 L385.3,460.5 L386.8,464.2 L388.3,459.8 L389.8,462.6 L391.3,462.3 L392.8,462.8 L394.3,462.8 L395.8,462.4 L397.3,461.7 L398.8,461.1 L400.3,462.7 L401.8,459.4 L403.3,460.0 L404.8,462.3 L406.3,462.7 L407.8,461.5 L409.3,458.5 L410.8,462.1 L412.3,462.5 L413.8,459.8 L415.3,459.2 L416.8,458.7 L418.3,459.5 L419.8,456.0 L421.3,454.3 L422.8,458.0 L424.3,459.7 L425.8,463.7 L427.3,466.6 L428.8,467.2 L430.3,466.5 L431.8,465.8 L433.3,468.5 L434.8,468.7 L436.3,469.3 L437.8,469.3 L439.3,465.7 L440.8,465.0 L442.3,467.6 L443.8,466.0 L445.3,468.3 L446.8,466.5 L448.3,466.3 L449.8,466.1 L451.3,465.7 L452.8,466.4 L454.3,465.2 L455.8,467.5 L457.3,466.8 L458.8,466.9 L460.3,467.0 L461.8,466.2 L463.3,466.7 L464.8,466.2 L466.3,465.5 L467.8,464.4 L469.3,465.4 L470.8,465.4 L472.3,465.8 L473.8,466.0 L475.3,465.4 L476.8,464.3 L478.3,464.2 L479.8,465.7 L481.3,465.7 L482.8,464.6 L484.3,463.9 L485.8,463.9 L487.3,463.9 L488.8,465.4 L490.3,464.3 L491.8,464.4 L493.3,465.0 L494.8,463.8 L496.3,464.3 L497.8,464.4 L499.3,464.0 L500.8,463.3 L502.3,463.9 L503.8,463.1 L505.3,463.3 L506.8,463.3 L508.3,462.8 L509.8,464.2 L511.3,463.4 L512.8,463.7 L514.3,463.5 L515.8,462.1 L517.3,461.7 L518.8,463.2 L520.3,462.1 L521.8,462.2 L523.3,462.4 L524.8,461.3 L526.3,461.6 L527.8,460.8 L529.3,460.5 L530.8,460.0 L532.3,460.3 L533.8,460.2 L535.3,461.1 L536.8,460.5 L538.3,460.9 L539.8,459.9 L541.3,459.7 L542.8,460.2 L544.3,459.6 L545.8,460.4 L547.3,459.6 L548.8,459.3 L550.3,460.1 L551.8,458.9 L553.3,459.8 L554.8,459.1 L556.3,458.4 L557.8,459.3 L559.3,459.2 L560.8,458.1 L562.3,458.7 L563.8,458.5 L565.3,458.9 L566.8,457.8 L568.3,458.3 L569.8,459.0 L571.3,457.1 L572.8,458.2 L574.3,457.4 L575.8,457.6 L577.3,457.1 L578.8,457.3 L580.3,457.2 L581.8,457.8 L583.3,457.6 L584.8,457.6 L586.3,457.5 L587.8,456.4 L589.3,457.0 L590.8,457.2 L592.3,455.7 L593.8,456.8 L595.3,456.4 L596.8,455.7 L598.3,456.4 L599.8,456.5 L601.3,456.3 L602.8,455.1 L604.3,456.7 L605.8,455.6 L607.3,456.4 L608.8,455.2 L610.3,455.9 L611.8,454.9 L613.3,455.7 L614.8,455.8 L616.3,455.3 L617.8,455.8 L619.3,455.2 L620.8,454.4 L622.3,454.3 L623.8,454.2 L625.3,454.7 L626.8,455.6 L628.3,454.5 L629.8,455.2 L631.3,454.8 L632.8,454.8 L634.3,454.7 L635.8,453.8 L637.3,454.8 L638.8,454.0 L640.3,454.8 L641.8,453.1 L643.3,453.2 L644.8,453.1 L646.3,454.0 L647.8,452.9 L649.3,453.3 L650.8,453.4 L652.3,453.3 L653.8,452.8 L655.3,453.7 L656.8,452.9 L658.3,452.3 L659.8,452.8 L661.3,452.0 L662.8,452.8 L664.3,451.9 L665.8,453.0 L667.3,451.5 L668.8,451.8 L670.3,451.6 L671.8,452.1 L673.3,451.7 L674.8,451.7 L676.3,451.6 L677.8,451.7 L679.3,451.1 L680.8,451.1 L682.3,450.9 L683.8,450.6 L685.3,451.3 L686.8,451.7 L688.3,451.6 L689.8,451.6 L691.3,450.1 L692.8,451.0 L694.3,449.8 L695.8,450.9 L697.3,450.9 L698.8,450.2 L700.3,450.6 L701.8,449.2 L703.3,448.8 L704.8,447.9 L706.3,448.1 L707.8,447.4 L709.3,447.4 L710.8,447.3 L712.3,447.8 L713.8,446.8 L715.3,447.7 L716.8,446.9 L718.3,447.1 L719.8,446.9 L721.3,447.7 L722.8,448.4 L724.3,447.3 L725.8,447.1 L727.3,447.8 L728.8,447.0 L730.3,447.5 L731.8,447.5 L733.3,446.9 L734.8,448.1 L736.3,447.2 L737.8,447.5 L739.3,446.6 L740.8,447.9 L742.3,446.6 L743.8,447.0 L745.3,446.3 L746.8,446.4 L748.3,446.2 L749.8,446.6 L751.3,446.0 L752.8,446.5 L754.3,446.6 L755.8,446.0 L757.3,446.7 L758.8,445.3 L760.3,445.8 L761.8,445.9 L763.3,445.4 L764.8,444.1 L766.3,444.0 L767.8,443.7 L769.3,443.5 L770.8,443.9 L772.3,444.2 L773.8,443.2 L775.3,444.4 L776.8,444.1 L778.3,445.8 L779.8,445.2 L781.3,444.7 L782.8,444.5 L784.3,444.2 L785.8,444.0 L787.3,445.1 L788.8,444.6 L790.3,443.5 L791.8,444.0 L793.3,443.6 L794.8,442.9 L796.3,444.1 L797.8,442.8 L799.3,443.1 L800.8,442.8 L802.3,442.9 L803.8,443.7 L805.3,443.3 L806.8,442.5 L808.3,443.1 L809.8,442.7 L811.3,442.4 L812.8,442.8 L814.3,442.3 L815.8,443.2 L817.3,442.4 L818.8,442.0 L820.3,443.1 L821.8,441.8 L823.3,442.3 L824.8,442.2 L826.3,441.7 L827.8,441.7 L829.3,440.4 L830.8,440.2 L832.3,440.5 L833.8,440.1 L835.3,441.8 L836.8,441.7 L838.3,442.0 L839.8,441.9 L841.3,441.6 L842.8,441.0 L844.3,440.6 L845.8,440.7 L847.3,440.2 L848.8,440.8 L850.3,440.0 L851.8,440.9 L853.3,439.5 L854.8,439.7 L856.3,440.2 L857.8,439.6 L859.3,439.1 L860.8,439.3 L862.3,438.6 L863.8,438.0 L865.3,438.9 L866.8,438.5 L868.3,438.4 L869.8,438.0 L871.3,438.6 L872.8,438.2 L874.3,437.9 L875.8,438.9 L877.3,437.9 L878.8,437.4 L880.3,438.0 L881.8,437.3 L883.3,437.3 L884.8,436.2 L886.3,436.4 L887.8,436.0 L889.3,435.6 L890.8,435.1 L892.3,435.8 L893.8,435.3 L895.3,434.8 L896.8,434.1 L898.3,434.3 L899.8,433.7 L901.3,432.8 L902.8,433.4 L904.3,433.1 L905.8,433.5 L907.3,433.8 L908.8,433.2 L910.3,434.0 L911.8,433.7 L913.3,433.5 L914.8,433.8 L916.3,433.1 L917.8,432.6 L919.3,433.2 L920.8,433.3 L922.3,433.5 L923.8,432.8 L925.3,433.5 L926.8,433.5 L928.3,434.4 L929.8,435.3 L931.3,434.0 L932.8,434.5 L934.3,433.9 L935.8,433.7 L937.3,433.8 L938.8,432.9 L940.3,432.7 L941.8,433.7 L943.3,433.2 L944.8,433.6 L946.3,434.4 L947.8,434.5 L949.3,434.3 L950.8,434.1 L952.3,434.9 L953.8,434.1 L955.3,433.9 L956.8,434.5 L958.3,434.4 L959.8,434.1 L961.3,434.4 L962.8,433.1 L964.3,433.5 L965.8,433.9 L967.3,434.0 L968.8,432.9 L970.3,433.5 L971.8,432.7 L973.3,432.9 L974.8,433.3 L976.3,433.3 L977.8,432.2 L979.3,432.4 L980.8,433.3 L982.3,432.7 L983.8,432.6 L985.3,432.1 L986.8,432.3 L988.3,432.0 L989.8,431.7 L991.3,431.9 L992.8,432.2 L994.3,432.0 L995.8,432.0 L997.3,431.5 L998.8,431.1 L1000.3,431.1 L1001.8,430.7 L1003.3,430.1 L1004.8,428.7 L1006.3,429.3 L1007.8,429.5 L1009.3,429.1 L1010.8,429.4 L1012.3,430.0 L1013.8,429.9 L1015.3,430.0 L1016.8,429.3 L1018.3,429.3 L1019.8,430.3 L1021.3,430.2 L1022.8,429.8 L1024.3,429.7 L1025.8,429.9 L1027.3,430.2 L1028.8,429.6 L1030.3,429.7 L1031.8,428.8 L1033.3,429.2 L1034.8,428.2 L1036.3,429.0 L1037.8,427.9 L1039.3,427.3 L1040.8,428.3 L1042.3,427.6 L1043.8,427.7 L1045.3,427.3 L1046.8,427.3 L1048.3,427.5 L1049.8,427.3 L1051.3,427.5 L1052.8,427.2 L1054.3,427.3 L1055.8,426.7 L1057.3,427.3 L1058.8,427.4 L1060.3,427.7 L1061.8,427.4 L1063.3,426.5 L1064.8,426.8 L1066.3,427.3 L1067.8,427.1 L1069.3,426.1 L1070.8,426.0 L1072.3,426.4 L1073.8,426.2 L1075.3,425.7 L1076.8,425.7 L1078.3,425.6 L1079.8,426.0 L1081.3,425.2 L1082.8,425.8 L1084.3,425.7 L1085.8,424.8 L1087.3,425.4 L1088.8,424.3 L1090.3,424.8 L1091.8,424.5 L1093.3,424.9 L1094.8,425.0 L1096.3,425.7 L1097.8,425.9 L1099.3,425.3 L1100.8,425.5 L1102.3,426.3 L1103.8,425.1 L1105.3,425.1 L1106.8,424.9 L1108.3,424.6 L1109.8,423.6 L1111.3,423.4 L1112.8,422.8 L1114.3,423.2 L1115.8,423.1 L1117.3,423.1 L1118.8,422.5 L1120.3,421.8 L1121.8,422.8 L1123.3,421.7 L1124.8,421.7 L1126.3,421.4 L1127.8,421.9 L1129.3,422.4 L1130.8,422.8 L1132.3,422.5 L1133.8,422.0 L1135.3,423.2 L1136.8,421.5 L1138.3,420.9 L1139.8,420.1 L1141.3,420.4 L1142.8,420.5 L1144.3,421.8 L1145.8,422.2 L1147.3,422.9 L1148.8,424.0 L1150.3,424.1 L1151.8,424.0 L1153.3,423.7 L1154.8,422.2 L1156.3,420.9 L1157.8,420.2 L1159.3,420.3 L1160.8,420.4 L1162.3,420.4 L1163.8,420.7 L1165.3,420.7 L1166.8,421.1 L1168.3,421.6 L1169.8,421.9 L1171.3,421.8 L1172.8,421.2 L1174.3,420.5 L1175.8,419.9 L1177.3,419.2 L1178.8,418.9 L1180.3,419.6 L1181.8,420.1 L1183.3,421.0 L1184.8,420.0 L1186.3,419.8 L1187.8,418.8 L1189.3,418.5 L1190.8,418.6 L1192.3,419.3 L1193.8,419.7 L1195.3,420.3 L1196.8,420.9 L1198.3,420.4 L1199.8,420.2 L1201.3,419.9 L1202.8,419.4 L1204.3,419.4 L1205.8,418.9 L1207.3,418.6 L1208.8,418.3 L1210.3,418.4 L1211.8,418.3 L1213.3,418.7 L1214.8,418.9 L1216.3,419.6 L1217.8,419.6 L1219.3,420.0 L1220.8,420.0 L1222.3,419.8 L1223.8,418.8 L1225.3,418.4 L1226.8,417.5 L1228.3,417.6 L1229.8,417.6 L1231.3,418.0 L1232.8,418.2 L1234.3,418.3 L1235.8,418.7 L1237.3,418.2 L1238.8,418.1 L1240.3,417.5 L1241.8,416.9 L1243.3,416.5 L1244.8,416.0 L1246.3,415.4 L1247.8,415.1 L1249.3,415.3 L1250.8,415.2 L1252.3,415.4 L1253.8,415.3 L1255.3,415.4 L1256.8,414.6 L1258.3,414.0 L1259.8,413.0 L1261.3,412.5 L1262.8,413.9 L1264.3,415.3 L1265.8,416.6 L1267.3,418.0 L1268.8,417.7 L1270.3,417.7 L1271.8,417.0 L1273.3,416.9 L1274.8,416.6 L1276.3,416.1 L1277.8,415.9 L1279.3,415.6 L1280.8,415.2 L1282.3,414.8 L1283.8,414.6 L1285.3,414.9 L1286.8,415.2 L1288.3,415.7 L1289.8,416.2 L1291.3,416.5 L1292.8,417.1 L1294.3,417.2 L1295.8,417.3 L1297.3,417.0 L1298.8,416.9 L1300.3,417.0 L1301.8,416.7 L1303.3,416.7 L1304.8,416.5 L1306.3,416.6 L1307.8,416.2 L1309.3,416.1 L1310.8,416.3 L1312.3,416.1 L1313.8,416.1 L1315.3,415.7 L1316.8,415.7 L1318.3,415.0 L1319.8,415.1 L1321.3,414.7 L1322.8,414.2 L1324.3,413.6 L1325.8,413.4 L1327.3,413.6 L1328.8,414.2 L1330.3,414.9 L1331.8,415.3 L1333.3,416.1 L1334.8,417.1 L1336.3,417.2 L1337.8,417.0 L1339.3,416.7 L1340.8,416.5 L1342.3,416.6 L1343.8,416.2 L1345.3,416.3 L1346.8,415.7 L1348.3,415.7 L1349.8,415.6 L1351.3,415.4 L1352.8,415.3 L1354.3,415.1 L1355.8,414.9 L1357.3,414.4 L1358.8,413.9 L1360.3,413.4 L1361.8,412.8 L1363.3,412.4 L1364.8,411.8 L1366.3,412.2 L1367.8,412.5 L1369.3,412.8 L1370.8,413.0 L1372.3,413.7 L1373.8,413.6 L1375.3,413.5 L1376.8,413.6 L1378.3,413.3 L1379.8,413.2 L1381.3,413.2 L1382.8,413.1 L1384.3,413.2 L1385.8,413.2 L1387.3,412.9 L1388.8,412.4 L1390.3,412.4 L1391.8,411.8 L1393.3,411.5 L1394.8,411.3 L1396.3,411.3 L1397.8,410.7 L1399.3,411.0 L1400.8,411.7 L1402.3,412.6 L1403.8,413.2 L1405.3,414.3 L1406.8,415.0 L1408.3,414.8 L1409.8,415.0 L1411.3,414.7 L1412.8,414.7 L1414.3,414.4 L1415.8,413.7 L1417.3,412.9 L1418.8,412.0 L1420.3,411.3 L1421.8,410.1 L1423.3,409.7 L1424.8,409.0 L1426.3,409.7 L1427.8,410.3 L1429.3,410.9 L1430.8,411.6 L1432.3,411.6 L1433.8,411.4 L1435.3,411.6 L1436.8,411.2 L1438.3,411.0 L1439.8,410.8 L1441.3,410.9 L1442.8,410.9 L1444.3,411.2 L1445.8,411.2 L1447.3,411.6 L1448.8,412.0 L1450.3,412.1 L1451.8,412.3 L1453.3,412.0 L1454.8,411.7 L1456.3,410.9 L1457.8,410.7 L1459.3,410.2 L1460.8,409.6 L1462.3,409.2 L1463.8,408.6 L1465.3,408.6 L1466.8,408.7 L1468.3,408.7 L1469.8,408.8 L1471.3,408.7 L1472.8,409.0 L1474.3,408.6 L1475.8,409.0 L1477.3,409.5 L1478.8,410.4 L1480.3,411.8 L1481.8,411.7 L1483.3,409.5 L1484.8,407.9 L1486.3,405.8 L1487.8,406.7 L1489.3,407.6 L1490.8,408.4 L1492.3,409.1 L1493.8,409.6 L1495.3,409.6 L1496.8,409.2 L1498.3,409.3 L1499.8,409.2 L1501.3,409.0 L1502.8,409.1 L1504.3,409.2 L1505.8,409.0 L1507.3,408.9 L1508.8,408.8 L1510.3,408.8 L1511.8,408.0 L1513.3,407.2 L1514.8,406.0 L1516.3,405.1 L1517.8,404.2 L1519.3,403.9 L1520.8,403.7 L1522.3,403.1 L1523.8,403.1 L1525.3,402.7 L1526.8,402.7 L1528.3,402.2 L1529.8,402.2 L1531.3,401.7 L1532.8,402.4 L1534.3,403.4 L1535.8,403.9 L1537.3,405.0 L1538.8,405.6 L1540.3,406.3 L1541.8,407.2 L1543.3,408.2 L1544.8,407.2 L1546.3,406.2 L1547.8,405.6 L1549.3,404.3 L1550.8,403.4 L1552.3,402.6 L1553.8,402.5 L1555.3,402.5 L1556.8,402.1 L1558.3,402.0 L1559.8,402.4 L1561.3,402.1 L1562.8,402.2 L1564.3,401.9 L1565.8,401.8 L1567.3,402.0 L1568.8,401.6 L1570.3,401.2 L1571.8,400.5 L1573.3,399.8 L1574.8,399.0 L1576.3,398.3 L1577.8,397.5 L1579.3,398.1 L1580.8,398.9 L1582.3,399.6 L1583.8,400.1 L1585.3,401.1 L1586.8,401.9 L1588.3,402.4 L1589.8,403.3 L1591.3,403.7 L1592.8,402.8 L1594.3,401.7 L1595.8,400.7 L1597.3,399.8 L1598.8,399.3 L1600.3,399.2 L1601.8,399.2 L1603.3,399.0 L1604.8,398.7 L1606.3,398.7 L1607.8,398.5 L1609.3,398.5 L1610.8,397.9 L1612.3,397.2 L1613.8,396.2 L1615.3,395.7 L1616.8,394.9 L1618.3,393.9 L1619.8,393.2 L1621.3,392.8 L1622.8,392.1 L1624.3,392.6 L1625.8,393.7 L1627.3,394.9 L1628.8,396.0 L1630.3,397.2 L1631.8,398.0 L1633.3,395.9 L1634.8,393.6 L1636.3,391.4 L1637.0,390.3" fill="none" stroke="#008000" stroke-width="10" stroke-linejoin="round" stroke-linecap="butt"/>
<path d="M223.3,619.8 L224.8,621.5 L226.3,620.7 L227.8,621.6 L229.3,619.3 L230.8,619.3 L232.3,619.3 L233.8,621.1 L235.3,620.1 L236.8,620.6 L238.3,618.7 L239.8,620.4 L241.3,618.5 L242.8,620.6 L244.3,619.4 L245.8,620.5 L247.3,619.5 L248.8,619.3 L250.3,618.0 L251.8,619.1 L253.3,619.2 L254.8,618.7 L256.3,618.7 L257.8,619.1 L259.3,618.4 L260.8,618.1 L262.3,617.6 L263.8,617.3 L265.3,617.8 L266.8,617.9 L268.3,617.5 L269.8,615.7 L271.3,615.9 L272.8,616.7 L274.3,616.4 L275.8,617.2 L277.3,617.3 L278.8,616.9 L280.3,616.1 L281.8,616.3 L283.3,616.5 L284.8,614.5 L286.3,614.9 L287.8,614.0 L289.3,615.4 L290.8,616.1 L292.3,613.6 L293.8,613.8 L295.3,613.9 L296.8,615.3 L298.3,614.1 L299.8,613.5 L301.3,613.9 L302.8,613.4 L304.3,613.3 L305.8,614.0 L307.3,614.1 L308.8,612.9 L310.3,613.5 L311.8,612.1 L313.3,614.4 L314.8,612.0 L316.3,613.0 L317.8,614.0 L319.3,612.1 L320.8,611.9 L322.3,612.9 L323.8,612.1 L325.3,611.4 L326.8,612.1 L328.3,612.6 L329.8,612.1 L331.3,610.8 L332.8,611.8 L334.3,612.3 L335.8,610.3 L337.3,611.3 L338.8,610.8 L340.3,611.1 L341.8,609.6 L343.3,609.7 L344.8,609.9 L346.3,611.0 L347.8,609.7 L349.3,609.5 L350.8,610.4 L352.3,608.7 L353.8,609.0 L355.3,609.5 L356.8,608.9 L358.3,609.6 L359.8,609.7 L361.3,608.5 L362.8,608.6 L364.3,610.3 L365.8,609.4 L367.3,608.7 L368.8,608.6 L370.3,609.5 L371.8,610.7 L373.3,609.1 L374.8,611.2 L376.3,608.6 L377.8,610.0 L379.3,610.2 L380.8,609.7 L382.3,608.9 L383.8,608.9 L385.3,609.5 L386.8,610.3 L388.3,608.9 L389.8,608.7 L391.3,608.7 L392.8,610.2 L394.3,608.2 L395.8,607.8 L397.3,609.6 L398.8,607.5 L400.3,609.3 L401.8,608.7 L403.3,609.4 L404.8,607.7 L406.3,609.1 L407.8,607.1 L409.3,608.9 L410.8,607.8 L412.3,608.1 L413.8,609.0 L415.3,608.6 L416.8,608.1 L418.3,607.6 L419.8,608.1 L421.3,606.6 L422.8,605.8 L424.3,608.1 L425.8,611.1 L427.3,611.1 L428.8,612.8 L430.3,613.8 L431.8,613.5 L433.3,613.0 L434.8,612.2 L436.3,611.9 L437.8,612.8 L439.3,613.4 L440.8,612.4 L442.3,613.8 L443.8,613.1 L445.3,612.7 L446.8,613.3 L448.3,612.3 L449.8,613.5 L451.3,612.4 L452.8,611.6 L454.3,613.5 L455.8,612.5 L457.3,613.2 L458.8,611.7 L460.3,611.8 L461.8,612.3 L463.3,612.9 L464.8,611.4 L466.3,612.1 L467.8,612.3 L469.3,611.7 L470.8,611.7 L472.3,612.3 L473.8,611.6 L475.3,611.8 L476.8,611.6 L478.3,611.9 L479.8,610.9 L481.3,611.2 L482.8,610.5 L484.3,610.6 L485.8,611.3 L487.3,611.5 L488.8,610.4 L490.3,611.0 L491.8,610.5 L493.3,610.7 L494.8,610.1 L496.3,609.9 L497.8,609.6 L499.3,610.0 L500.8,609.2 L502.3,610.4 L503.8,609.4 L505.3,610.0 L506.8,609.7 L508.3,609.5 L509.8,610.4 L511.3,610.2 L512.8,610.0 L514.3,609.0 L515.8,609.5 L517.3,609.8 L518.8,608.9 L520.3,609.8 L521.8,610.0 L523.3,610.2 L524.8,609.4 L526.3,608.7 L527.8,608.9 L529.3,609.8 L530.8,608.8 L532.3,609.5 L533.8,609.5 L535.3,609.2 L536.8,609.7 L538.3,608.6 L539.8,609.4 L541.3,609.0 L542.8,609.7 L544.3,609.0 L545.8,608.6 L547.3,608.8 L548.8,609.0 L550.3,608.3 L551.8,609.4 L553.3,609.1 L554.8,608.5 L556.3,608.9 L557.8,609.4 L559.3,608.8 L560.8,608.4 L562.3,608.8 L563.8,608.9 L565.3,608.7 L566.8,607.9 L568.3,607.6 L569.8,608.0 L571.3,608.1 L572.8,608.7 L574.3,607.5 L575.8,608.6 L577.3,607.4 L578.8,607.7 L580.3,607.8 L581.8,608.5 L583.3,608.5 L584.8,607.1 L586.3,607.3 L587.8,607.6 L589.3,607.3 L590.8,608.3 L592.3,607.7 L593.8,607.2 L595.3,607.6 L596.8,607.6 L598.3,607.9 L599.8,607.9 L601.3,607.1 L602.8,607.6 L604.3,607.8 L605.8,607.1 L607.3,607.4 L608.8,606.9 L610.3,606.7 L611.8,606.4 L613.3,606.2 L614.8,606.5 L616.3,606.5 L617.8,606.7 L619.3,606.8 L620.8,606.8 L622.3,606.9 L623.8,606.5 L625.3,606.3 L626.8,606.4 L628.3,606.5 L629.8,606.7 L631.3,605.7 L632.8,606.6 L634.3,605.5 L635.8,605.2 L637.3,606.3 L638.8,605.4 L640.3,606.3 L641.8,605.5 L643.3,605.4 L644.8,606.1 L646.3,605.8 L647.8,604.7 L649.3,605.9 L650.8,604.6 L652.3,605.2 L653.8,605.5 L655.3,605.2 L656.8,604.6 L658.3,605.2 L659.8,604.7 L661.3,603.9 L662.8,604.8 L664.3,604.1 L665.8,603.6 L667.3,603.7 L668.8,603.2 L670.3,603.7 L671.8,603.5 L673.3,602.8 L674.8,603.0 L676.3,602.7 L677.8,603.4 L679.3,602.2 L680.8,602.7 L682.3,602.6 L683.8,602.4 L685.3,601.9 L686.8,601.6 L688.3,601.1 L689.8,601.2 L691.3,601.9 L692.8,601.0 L694.3,601.2 L695.8,600.7 L697.3,600.2 L698.8,600.6 L700.3,601.3 L701.8,600.2 L703.3,599.8 L704.8,600.0 L706.3,599.4 L707.8,599.0 L709.3,599.0 L710.8,599.5 L712.3,598.2 L713.8,597.9 L715.3,598.6 L716.8,597.5 L718.3,597.2 L719.8,597.1 L721.3,597.8 L722.8,597.7 L724.3,597.5 L725.8,596.3 L727.3,596.9 L728.8,595.5 L730.3,595.9 L731.8,595.8 L733.3,595.5 L734.8,596.1 L736.3,595.6 L737.8,595.0 L739.3,595.2 L740.8,595.0 L742.3,593.9 L743.8,594.0 L745.3,593.8 L746.8,594.6 L748.3,594.2 L749.8,593.3 L751.3,594.1 L752.8,592.6 L754.3,592.7 L755.8,592.4 L757.3,592.7 L758.8,593.1 L760.3,592.7 L761.8,591.5 L763.3,591.7 L764.8,592.3 L766.3,591.4 L767.8,592.0 L769.3,591.6 L770.8,591.6 L772.3,591.5 L773.8,591.1 L775.3,590.4 L776.8,591.2 L778.3,590.7 L779.8,590.7 L781.3,589.6 L782.8,589.7 L784.3,590.1 L785.8,590.3 L787.3,589.5 L788.8,590.0 L790.3,588.8 L791.8,588.8 L793.3,589.6 L794.8,589.9 L796.3,588.9 L797.8,588.8 L799.3,588.7 L800.8,589.0 L802.3,588.6 L803.8,588.4 L805.3,588.9 L806.8,587.7 L808.3,588.9 L809.8,588.6 L811.3,588.8 L812.8,588.5 L814.3,588.3 L815.8,587.5 L817.3,588.0 L818.8,587.7 L820.3,587.2 L821.8,587.7 L823.3,587.1 L824.8,587.7 L826.3,587.2 L827.8,587.3 L829.3,587.2 L830.8,586.6 L832.3,586.9 L833.8,586.4 L835.3,586.2 L836.8,586.9 L838.3,586.4 L839.8,586.4 L841.3,586.7 L842.8,586.2 L844.3,585.3 L845.8,586.2 L847.3,586.0 L848.8,586.1 L850.3,586.4 L851.8,586.1 L853.3,586.4 L854.8,586.0 L856.3,586.2 L857.8,585.2 L859.3,584.7 L860.8,584.9 L862.3,585.2 L863.8,584.9 L865.3,584.4 L866.8,583.8 L868.3,583.4 L869.8,582.9 L871.3,583.2 L872.8,583.1 L874.3,583.5 L875.8,582.7 L877.3,582.5 L878.8,582.1 L880.3,581.3 L881.8,581.5 L883.3,581.7 L884.8,581.6 L886.3,581.8 L887.8,581.1 L889.3,581.3 L890.8,581.3 L892.3,581.1 L893.8,580.1 L895.3,581.1 L896.8,580.8 L898.3,580.5 L899.8,579.7 L901.3,580.7 L902.8,580.2 L904.3,579.4 L905.8,579.8 L907.3,579.1 L908.8,578.9 L910.3,579.6 L911.8,579.6 L913.3,579.1 L914.8,578.5 L916.3,578.6 L917.8,578.1 L919.3,578.1 L920.8,577.7 L922.3,578.4 L923.8,578.4 L925.3,577.9 L926.8,577.9 L928.3,577.1 L929.8,577.9 L931.3,577.3 L932.8,576.6 L934.3,576.9 L935.8,576.7 L937.3,577.1 L938.8,576.8 L940.3,575.7 L941.8,576.2 L943.3,575.2 L944.8,575.6 L946.3,575.8 L947.8,574.7 L949.3,575.1 L950.8,574.6 L952.3,574.0 L953.8,574.8 L955.3,574.5 L956.8,574.0 L958.3,574.0 L959.8,574.2 L961.3,574.8 L962.8,575.1 L964.3,574.6 L965.8,574.0 L967.3,574.1 L968.8,574.5 L970.3,575.2 L971.8,573.9 L973.3,573.1 L974.8,571.1 L976.3,570.1 L977.8,570.1 L979.3,570.0 L980.8,569.1 L982.3,569.3 L983.8,569.3 L985.3,569.3 L986.8,569.4 L988.3,569.9 L989.8,568.9 L991.3,569.0 L992.8,569.3 L994.3,569.6 L995.8,569.6 L997.3,568.6 L998.8,569.1 L1000.3,569.1 L1001.8,568.7 L1003.3,569.2 L1004.8,568.1 L1006.3,568.6 L1007.8,568.7 L1009.3,568.9 L1010.8,567.5 L1012.3,568.3 L1013.8,567.7 L1015.3,568.1 L1016.8,567.7 L1018.3,568.0 L1019.8,567.1 L1021.3,567.9 L1022.8,567.1 L1024.3,567.5 L1025.8,567.1 L1027.3,567.5 L1028.8,568.3 L1030.3,569.3 L1031.8,569.3 L1033.3,568.2 L1034.8,567.5 L1036.3,567.7 L1037.8,567.0 L1039.3,566.1 L1040.8,565.8 L1042.3,564.8 L1043.8,564.5 L1045.3,564.1 L1046.8,564.1 L1048.3,564.1 L1049.8,564.4 L1051.3,565.3 L1052.8,565.4 L1054.3,565.1 L1055.8,565.9 L1057.3,565.1 L1058.8,566.0 L1060.3,565.1 L1061.8,563.3 L1063.3,563.4 L1064.8,562.5 L1066.3,562.2 L1067.8,562.4 L1069.3,562.6 L1070.8,562.6 L1072.3,562.2 L1073.8,562.8 L1075.3,563.5 L1076.8,563.2 L1078.3,563.0 L1079.8,564.0 L1081.3,562.7 L1082.8,561.5 L1084.3,561.1 L1085.8,559.6 L1087.3,560.1 L1088.8,560.0 L1090.3,559.4 L1091.8,559.4 L1093.3,559.7 L1094.8,559.1 L1096.3,559.8 L1097.8,559.6 L1099.3,558.8 L1100.8,559.2 L1102.3,559.1 L1103.8,558.8 L1105.3,559.1 L1106.8,558.7 L1108.3,558.6 L1109.8,558.5 L1111.3,558.6 L1112.8,557.8 L1114.3,558.4 L1115.8,557.7 L1117.3,557.7 L1118.8,558.3 L1120.3,557.5 L1121.8,557.9 L1123.3,557.3 L1124.8,558.1 L1126.3,558.0 L1127.8,557.1 L1129.3,557.7 L1130.8,557.5 L1132.3,556.6 L1133.8,556.7 L1135.3,556.3 L1136.8,556.3 L1138.3,556.5 L1139.8,556.5 L1141.3,556.4 L1142.8,556.1 L1144.3,556.5 L1145.8,556.9 L1147.3,556.2 L1148.8,556.6 L1150.3,556.0 L1151.8,556.6 L1153.3,556.4 L1154.8,556.8 L1156.3,555.7 L1157.8,556.4 L1159.3,556.1 L1160.8,555.8 L1162.3,555.4 L1163.8,555.5 L1165.3,554.7 L1166.8,554.4 L1168.3,554.4 L1169.8,555.4 L1171.3,555.8 L1172.8,556.1 L1174.3,555.2 L1175.8,554.3 L1177.3,553.5 L1178.8,553.1 L1180.3,553.4 L1181.8,553.9 L1183.3,554.0 L1184.8,554.2 L1186.3,553.4 L1187.8,552.7 L1189.3,552.2 L1190.8,552.5 L1192.3,553.4 L1193.8,553.9 L1195.3,554.4 L1196.8,553.8 L1198.3,553.4 L1199.8,553.1 L1201.3,552.9 L1202.8,552.3 L1204.3,552.1 L1205.8,551.6 L1207.3,551.4 L1208.8,551.2 L1210.3,551.2 L1211.8,551.4 L1213.3,551.8 L1214.8,552.0 L1216.3,552.0 L1217.8,552.3 L1219.3,551.6 L1220.8,551.1 L1222.3,550.7 L1223.8,549.8 L1225.3,549.5 L1226.8,549.1 L1228.3,548.3 L1229.8,547.6 L1231.3,547.4 L1232.8,546.8 L1234.3,546.9 L1235.8,547.9 L1237.3,548.8 L1238.8,549.6 L1240.3,549.9 L1241.8,549.1 L1243.3,548.9 L1244.8,548.3 L1246.3,547.5 L1247.8,547.3 L1249.3,546.5 L1250.8,546.3 L1252.3,545.5 L1253.8,545.2 L1255.3,544.6 L1256.8,544.6 L1258.3,545.1 L1259.8,545.4 L1261.3,545.4 L1262.8,545.6 L1264.3,545.9 L1265.8,545.5 L1267.3,545.6 L1268.8,545.4 L1270.3,545.4 L1271.8,545.0 L1273.3,545.0 L1274.8,544.1 L1276.3,542.9 L1277.8,542.7 L1279.3,543.5 L1280.8,544.2 L1282.3,544.6 L1283.8,545.7 L1285.3,545.6 L1286.8,545.0 L1288.3,544.8 L1289.8,544.1 L1291.3,543.8 L1292.8,543.4 L1294.3,543.0 L1295.8,542.4 L1297.3,542.7 L1298.8,542.6 L1300.3,542.3 L1301.8,542.5 L1303.3,542.0 L1304.8,541.9 L1306.3,542.2 L1307.8,541.3 L1309.3,540.4 L1310.8,539.3 L1312.3,538.9 L1313.8,539.7 L1315.3,540.8 L1316.8,541.3 L1318.3,541.4 L1319.8,540.4 L1321.3,539.0 L1322.8,537.6 L1324.3,537.7 L1325.8,539.0 L1327.3,539.3 L1328.8,540.4 L1330.3,540.8 L1331.8,540.9 L1333.3,540.7 L1334.8,540.8 L1336.3,540.7 L1337.8,540.5 L1339.3,540.3 L1340.8,540.2 L1342.3,540.1 L1343.8,539.7 L1345.3,539.5 L1346.8,539.3 L1348.3,538.7 L1349.8,539.0 L1351.3,538.9 L1352.8,538.7 L1354.3,538.9 L1355.8,537.9 L1357.3,536.3 L1358.8,535.2 L1360.3,535.2 L1361.8,535.7 L1363.3,536.4 L1364.8,537.1 L1366.3,536.6 L1367.8,535.2 L1369.3,534.4 L1370.8,533.7 L1372.3,534.1 L1373.8,534.9 L1375.3,535.2 L1376.8,536.0 L1378.3,535.2 L1379.8,534.6 L1381.3,534.1 L1382.8,533.2 L1384.3,533.1 L1385.8,533.0 L1387.3,532.5 L1388.8,532.4 L1390.3,532.0 L1391.8,532.0 L1393.3,531.9 L1394.8,531.6 L1396.3,532.3 L1397.8,532.2 L1399.3,532.7 L1400.8,532.1 L1402.3,531.2 L1403.8,530.5 L1405.3,529.2 L1406.8,529.3 L1408.3,529.5 L1409.8,529.6 L1411.3,529.6 L1412.8,530.1 L1414.3,529.6 L1415.8,528.7 L1417.3,528.0 L1418.8,528.1 L1420.3,528.4 L1421.8,528.6 L1423.3,529.0 L1424.8,529.5 L1426.3,529.2 L1427.8,527.6 L1429.3,526.6 L1430.8,525.1 L1432.3,525.4 L1433.8,525.8 L1435.3,526.3 L1436.8,526.5 L1438.3,527.3 L1439.8,527.1 L1441.3,526.7 L1442.8,526.4 L1444.3,526.4 L1445.8,525.9 L1447.3,525.7 L1448.8,525.8 L1450.3,525.5 L1451.8,525.4 L1453.3,524.9 L1454.8,525.1 L1456.3,524.8 L1457.8,524.3 L1459.3,524.4 L1460.8,523.6 L1462.3,522.2 L1463.8,521.6 L1465.3,520.6 L1466.8,519.5 L1468.3,518.9 L1469.8,519.5 L1471.3,520.0 L1472.8,520.8 L1474.3,521.1 L1475.8,521.0 L1477.3,520.0 L1478.8,519.3 L1480.3,518.4 L1481.8,518.2 L1483.3,518.6 L1484.8,518.9 L1486.3,519.2 L1487.8,519.2 L1489.3,518.2 L1490.8,517.4 L1492.3,516.4 L1493.8,515.9 L1495.3,516.7 L1496.8,517.3 L1498.3,518.4 L1499.8,518.9 L1501.3,518.6 L1502.8,517.8 L1504.3,516.4 L1505.8,515.6 L1507.3,514.5 L1508.8,514.0 L1510.3,513.9 L1511.8,513.6 L1513.3,513.5 L1514.8,513.3 L1516.3,512.7 L1517.8,512.4 L1519.3,512.5 L1520.8,512.5 L1522.3,513.0 L1523.8,513.1 L1525.3,513.5 L1526.8,512.6 L1528.3,510.7 L1529.8,508.6 L1531.3,507.0 L1532.8,507.3 L1534.3,508.3 L1535.8,509.3 L1537.3,510.1 L1538.8,510.6 L1540.3,508.5 L1541.8,506.9 L1543.3,504.8 L1544.8,504.0 L1546.3,504.7 L1547.8,505.7 L1549.3,506.1 L1550.8,507.3 L1552.3,506.0 L1553.8,504.3 L1555.3,502.7 L1556.8,501.1 L1558.3,501.3 L1559.8,502.0 L1561.3,502.4 L1562.8,502.8 L1564.3,503.2 L1565.8,502.3 L1567.3,501.3 L1568.8,500.6 L1570.3,499.9 L1571.8,499.5 L1573.3,499.7 L1574.8,499.8 L1576.3,500.0 L1577.8,500.0 L1579.3,499.5 L1580.8,498.5 L1582.3,497.3 L1583.8,496.9 L1585.3,496.5 L1586.8,496.6 L1588.3,496.4 L1589.8,496.6 L1591.3,496.6 L1592.8,496.1 L1594.3,495.8 L1595.8,494.7 L1597.3,494.4 L1598.8,494.3 L1600.3,494.3 L1601.8,494.7 L1603.3,495.0 L1604.8,494.9 L1606.3,494.2 L1607.8,494.0 L1609.3,493.1 L1610.8,492.9 L1612.3,492.7 L1613.8,492.4 L1615.3,492.7 L1616.8,492.6 L1618.3,492.1 L1619.8,491.4 L1621.3,490.5 L1622.8,489.8 L1624.3,489.2 L1625.8,489.2 L1627.3,489.2 L1628.8,489.5 L1630.3,490.0 L1631.8,489.9 L1633.3,488.9 L1634.8,487.6 L1636.3,486.4 L1637.0,486.2" fill="none" stroke="#0000ff" stroke-width="10" stroke-linejoin="round" stroke-linecap="butt"/>
</g>
<!-- axis titles -->
<text class="ax" x="930" y="1343.5" text-anchor="middle">hν(nm)</text>
<text class="ax" transform="translate(65,635) rotate(-90)">ln</text>
<text class="ax" transform="translate(65,567.5) rotate(-90) scale(1.13,1.0)">α</text>
</svg>
</body>
</html>
